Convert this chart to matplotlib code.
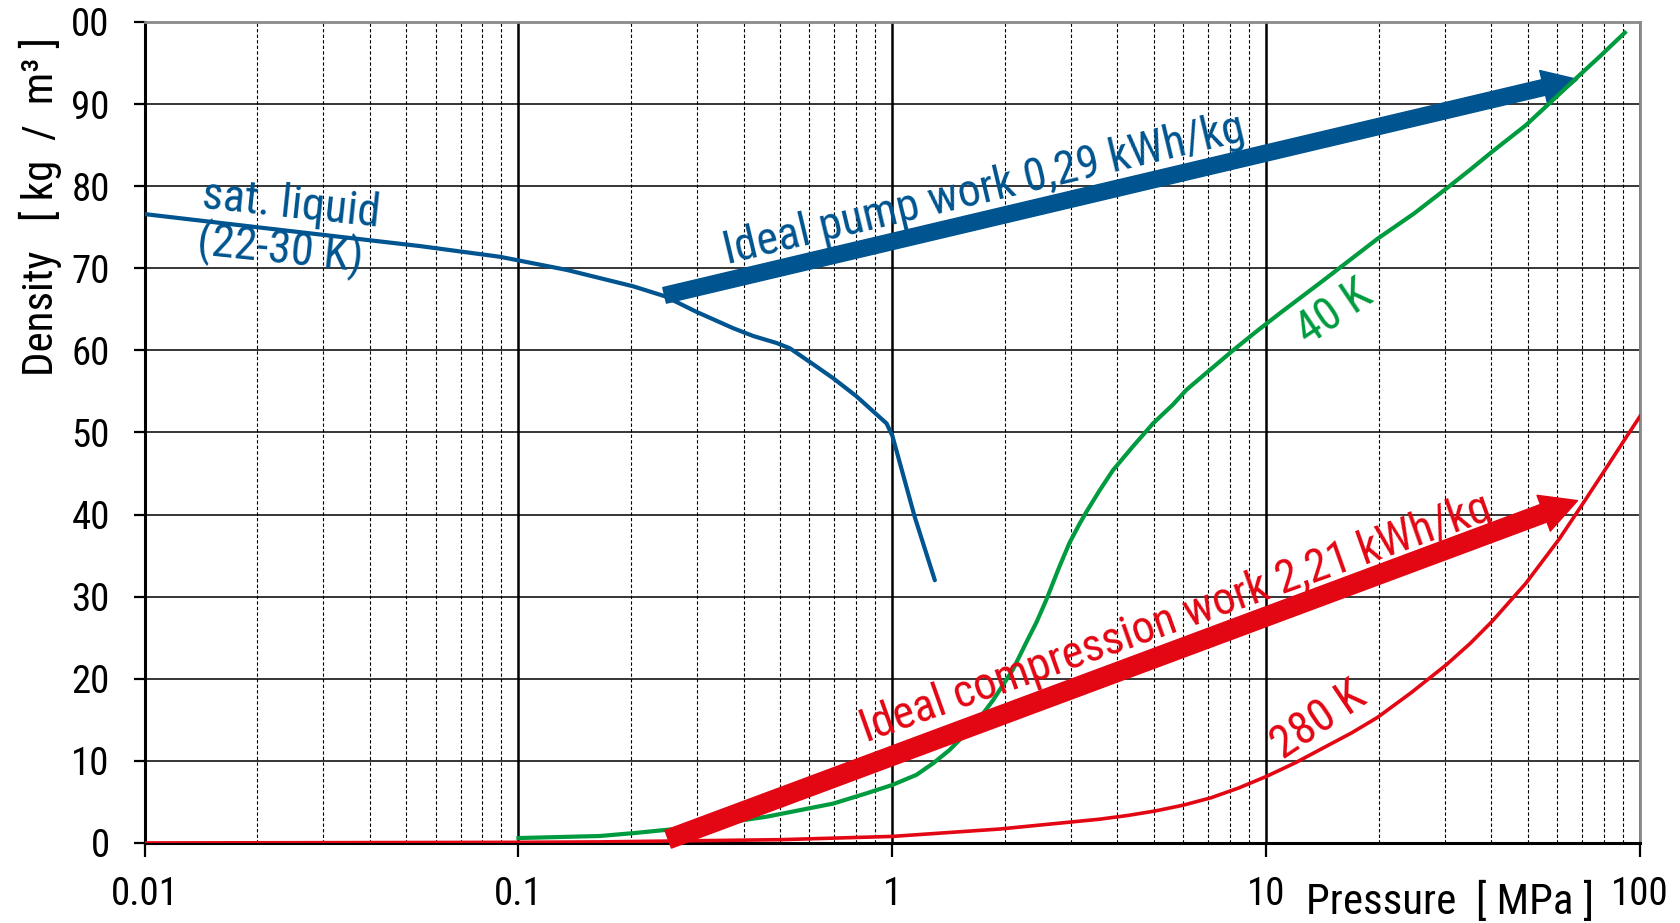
import matplotlib
matplotlib.use("Agg")
import matplotlib.pyplot as plt
from matplotlib import font_manager
from matplotlib.ticker import LogLocator, NullFormatter, FixedLocator

# narrow font if one is installed, else the narrowest fallback
font_choice = ('Liberation Sans', 'normal')
for fam, stretch in [('Liberation Sans Narrow', 'normal'), ('Roboto Condensed', 'normal'),
                     ('DejaVu Sans', 'condensed')]:
    if any(f.name == fam and (stretch == 'normal' or f.stretch == stretch)
           for f in font_manager.fontManager.ttflist):
        font_choice = (fam, stretch)
        break
plt.rcParams['font.family'] = [font_choice[0], 'DejaVu Sans']
plt.rcParams['font.stretch'] = font_choice[1]

# saturated liquid (22-30 K)
sat_p = [0.01, 0.02, 0.0546, 0.0892, 0.1346, 0.2028, 0.246, 0.299, 0.3752, 0.4244,
         0.490, 0.532, 0.601, 0.695, 0.802, 0.965, 1.0, 1.148, 1.299]
sat_rho = [76.6, 75.0, 72.7, 71.4, 69.8, 67.8, 66.6, 64.7, 62.7, 61.75,
           60.9, 60.25, 58.6, 56.6, 54.4, 51.1, 49.6, 39.7, 32.0]

# 40 K isotherm
k40_p = [0.1, 0.165, 0.203, 0.249, 0.306, 0.375, 0.461, 0.566, 0.695, 0.853, 1.0, 1.16,
         1.285, 1.42, 1.578, 1.75, 1.86, 2.10, 2.28, 2.43, 2.58, 2.80, 2.98, 3.17, 3.31,
         3.59, 3.89, 4.40, 4.98, 5.63, 6.12, 7.06, 8.15, 9.41, 10.86, 14.1, 19.85, 24.9,
         30.3, 35.1, 40.2, 49.4, 56.6, 69.5, 78, 91]
k40_rho = [0.6, 0.85, 1.2, 1.6, 2.0, 2.6, 3.2, 4.0, 4.8, 6.05, 7.07, 8.3,
           9.7, 11.3, 13.4, 15.8, 17.4, 21.1, 24.4, 26.9, 29.6, 33.7, 36.6, 38.9, 40.4,
           43.0, 45.4, 48.3, 51.1, 53.4, 55.2, 57.6, 60.0, 62.3, 64.5, 68.4, 73.6, 76.7,
           79.7, 82.0, 84.2, 87.4, 89.9, 93.7, 95.8, 98.7]

# 280 K isotherm
k280_p = [0.01, 0.1, 0.165, 0.5, 1.0, 1.937, 3.59, 4.26, 5.05, 5.99, 7.11, 8.44, 10,
          12.0, 14.1, 16.9, 19.85, 24.4, 30.3, 35.1, 40.2, 49.4, 60.7, 69.5, 81.5, 91.4, 100]
k280_rho = [0.0, 0.08, 0.13, 0.4, 0.8, 1.7, 2.9, 3.35, 3.9, 4.6, 5.5, 6.7, 8.1,
            9.8, 11.5, 13.4, 15.3, 18.3, 21.7, 24.3, 27.0, 31.6, 37.0, 41.0, 45.8, 49.3, 52.0]

# ideal work arrows: (start, end)
pump_arrow = [(0.246, 66.7), (68, 93.0)]
comp_arrow = [(0.2515, 0.45), (68, 41.7)]

x_ticks = [0.01, 0.1, 1, 10, 100]
x_labels = ['0.01', '0.1', '1', '10', '100']
y_ticks = [0, 10, 20, 30, 40, 50, 60, 70, 80, 90, 100]
y_labels = ['0', '10', '20', '30', '40', '50', '60', '70', '80', '90', '00']

BLUE = '#00548f'
GREEN = '#009b3e'
RED = '#e30613'

fig = plt.figure(figsize=(16.81, 9.23), dpi=100)
ax = fig.add_axes([0.0860, 0.0867, 0.8897, 0.8895])

ax.set_xscale('log')
ax.set_xlim(0.01, 100)
ax.set_ylim(0, 100)

# curves
ax.plot(sat_p, sat_rho, color=BLUE, lw=3, zorder=4, solid_capstyle='round',
        solid_joinstyle='round')
ax.plot(k40_p, k40_rho, color=GREEN, lw=3, zorder=4, solid_joinstyle='round')
ax.plot(k280_p, k280_rho, color=RED, lw=2.6, zorder=4, solid_joinstyle='round')

# arrows
ax.annotate('', xy=pump_arrow[1], xytext=pump_arrow[0], zorder=3,
            arrowprops=dict(arrowstyle='simple,head_length=0.5,head_width=0.5,tail_width=0.23',
                            mutation_scale=50, color=BLUE, shrinkA=0, shrinkB=0))
ax.annotate('', xy=comp_arrow[1], xytext=comp_arrow[0], zorder=5,
            arrowprops=dict(arrowstyle='simple,head_length=0.52,head_width=0.55,tail_width=0.27',
                            mutation_scale=50, color=RED, shrinkA=0, shrinkB=0))

# labels on the chart
ax.text(0.0243, 74.9, 'sat. liquid\n(22-30 K)', color=BLUE, fontsize=33, rotation=-6,
        ha='center', va='center', multialignment='left', linespacing=1.0,
        rotation_mode='anchor', zorder=6)
ax.text(1.786, 78.0, 'Ideal pump work 0,29 kWh/kg', color=BLUE, fontsize=33, rotation=13.4,
        ha='center', va='baseline', rotation_mode='anchor', zorder=6)
ax.text(5.89, 25.8, 'Ideal compression work 2,21 kWh/kg', color=RED, fontsize=33, rotation=19.6,
        ha='center', va='baseline', rotation_mode='anchor', zorder=6)
ax.text(15.2, 64.6, '40 K', color=GREEN, fontsize=33, rotation=34,
        ha='center', va='center', rotation_mode='anchor', zorder=6)
ax.text(13.8, 14.9, '280 K', color=RED, fontsize=33, rotation=34,
        ha='center', va='center', rotation_mode='anchor', zorder=6)

# ticks
ax.xaxis.set_major_locator(FixedLocator(x_ticks))
ax.set_xticklabels(x_labels)
ax.xaxis.set_minor_locator(LogLocator(base=10, subs=range(2, 10)))
ax.xaxis.set_minor_formatter(NullFormatter())
ax.set_yticks(y_ticks)
ax.set_yticklabels(y_labels)
ax.tick_params(axis='x', which='major', direction='out', length=10, width=1.6,
               labelsize=28, pad=14)
ax.tick_params(axis='x', which='minor', length=0)
ax.tick_params(axis='y', which='major', direction='out', length=8, width=1.6,
               labelsize=28, pad=17)

# grid
ax.set_axisbelow(True)
ax.xaxis.grid(True, which='major', color='black', lw=1.8)
ax.xaxis.grid(True, which='minor', color='black', lw=0.8, linestyle=(0, (3, 2)))
ax.yaxis.grid(True, which='major', color='black', lw=1.1)

for side in ['left', 'bottom']:
    ax.spines[side].set_color('black')
    ax.spines[side].set_linewidth(2.2)
for side in ['top', 'right']:
    ax.spines[side].set_color('#8a8a8a')
    ax.spines[side].set_linewidth(2)

# axis titles
fig.text(40 / 1681, 1 - 207 / 923, 'Density   [ kg  /  m³ ]', rotation=90, fontsize=31,
         ha='center', va='center')
fig.text(1450 / 1681, 1 - 914 / 923, 'Pressure  [ MPa ]', fontsize=31,
         ha='center', va='baseline')

fig.savefig('out.png', dpi=100)
